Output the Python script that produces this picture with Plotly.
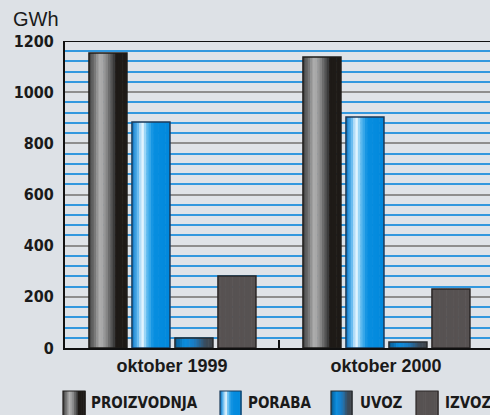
import plotly.graph_objects as go

categories = ["oktober 1999", "oktober 2000"]
series_names = ["PROIZVODNJA", "PORABA", "UVOZ", "IZVOZ"]
proizvodnja = [1153, 1137]
poraba = [883, 903]
uvoz = [39, 23]
izvoz = [281, 231]
y_ticks = [0, 200, 400, 600, 800, 1000, 1200]

values = [proizvodnja, poraba, uvoz, izvoz]

# gradient profiles (position across bar width 0..1, colour)
gradients = [
    [(0.0, (0x40, 0x40, 0x40)), (0.12, (0x6a, 0x6a, 0x6a)), (0.3, (0xb4, 0xb4, 0xb4)),
     (0.46, (0x88, 0x88, 0x88)), (0.66, (0x3a, 0x3a, 0x3a)), (0.7, (0x1e, 0x1a, 0x17)),
     (1.0, (0x1e, 0x1a, 0x17))],
    [(0.0, (0x0a, 0x74, 0xc4)), (0.14, (0x58, 0xb4, 0xee)), (0.27, (0xee, 0xf8, 0xff)),
     (0.4, (0x5c, 0xba, 0xf0)), (0.56, (0x08, 0x8e, 0xe0)), (1.0, (0x00, 0x88, 0xdc))],
    [(0.0, (0x0a, 0x58, 0x8c)), (0.25, (0x0a, 0x8e, 0xe0)), (0.5, (0x1a, 0x7c, 0xc4)),
     (0.8, (0x3a, 0x4a, 0x5a)), (1.0, (0x40, 0x44, 0x4a))],
    [(0.0, (0x57, 0x52, 0x52)), (1.0, (0x57, 0x52, 0x52))],
]
borders = ["#1e1c1a", "#1a3a5a", "#262a2e", "#2a2626"]


def grad_color(prof, t):
    for (t0, c0), (t1, c1) in zip(prof[:-1], prof[1:]):
        if t0 <= t <= t1:
            f = 0 if t1 == t0 else (t - t0) / (t1 - t0)
            c = [round(a + (b - a) * f) for a, b in zip(c0, c1)]
            return "rgb(%d,%d,%d)" % tuple(c)
    c = prof[-1][1]
    return "rgb(%d,%d,%d)" % c


BAR_W = 0.1776
SLOT = 0.2009
START = -0.388
N = 16

COND = "DejaVu Sans Condensed, Liberation Sans Narrow, Arial Narrow, sans-serif"

fig = go.Figure()
for i, (name, vals) in enumerate(zip(series_names, values)):
    off0 = START + i * SLOT
    sw = BAR_W / N
    for k in range(N):
        t = (k + 0.5) / N
        fig.add_trace(go.Bar(
            x=categories, y=vals, offset=off0 + k * sw, width=sw * 1.25 if k < N - 1 else sw,
            marker=dict(color=grad_color(gradients[i], t), line=dict(width=0)),
            showlegend=False, hoverinfo="skip"))
    fig.add_trace(go.Bar(
        x=categories, y=vals, offset=off0, width=BAR_W, name=name,
        marker=dict(color="rgba(0,0,0,0)", line=dict(width=1.5, color=borders[i])),
        showlegend=False))

# manual legend
PL, PR, PT, PB = 65, 490, 41, 348
def px(x):
    return (x - PL) / (PR - PL)
def py(y):
    return (PB - y) / (PB - PT)

legend_sym = [(63, 85), (220, 241), (331, 352), (416, 438)]
legend_txt = [89, 246, 358, 443]
shapes = []
annotations = []
for i, name in enumerate(series_names):
    x0, x1 = legend_sym[i]
    n = 12
    w = (x1 - x0) / n
    for k in range(n):
        t = (k + 0.5) / n
        shapes.append(dict(type="rect", xref="paper", yref="paper",
                           x0=px(x0 + k * w), x1=px(x0 + (k + 1) * w + 0.6),
                           y0=py(391), y1=py(420),
                           fillcolor=grad_color(gradients[i], t), line=dict(width=0)))
    shapes.append(dict(type="rect", xref="paper", yref="paper",
                       x0=px(x0), x1=px(x1), y0=py(391), y1=py(420),
                       fillcolor="rgba(0,0,0,0)", line=dict(width=1.2, color=borders[i])))
    annotations.append(dict(text=name, xref="paper", yref="paper", x=px(legend_txt[i]), y=py(403),
                            xanchor="left", yanchor="middle", showarrow=False,
                            font=dict(family=COND, size=15, color="#1a1a1a", weight="bold")))

# top border line at 1200
shapes.append(dict(type="line", xref="paper", yref="y", x0=0, x1=1, y0=1200, y1=1200,
                   line=dict(color="#111111", width=2)))

annotations.append(dict(text="GWh", xref="paper", yref="paper", x=px(11), y=py(19),
                        xanchor="left", yanchor="middle", showarrow=False,
                        font=dict(family="Liberation Sans, Arial, sans-serif", size=20, color="#1a1a1a")))

fig.update_layout(
    width=490, height=415,
    margin=dict(l=PL, r=0, t=PT, b=415 - PB, pad=0),
    barmode="overlay",
    paper_bgcolor="#dde1e6",
    plot_bgcolor="#dfe3e8",
    shapes=shapes,
    annotations=annotations,
    showlegend=False,
    xaxis=dict(range=[-0.5, -0.5 + (PR - PL) / 214], showgrid=False, showline=True,
               linecolor="#111111", linewidth=2, ticks="inside", tickson="boundaries",
               ticklen=8, tickwidth=1.5, tickcolor="#111111", zeroline=False,
               tickfont=dict(family="Liberation Sans, Arial, sans-serif", size=18,
                             color="#1a1a1a", weight="bold")),
    yaxis=dict(range=[0, 1200], tickvals=y_ticks, showgrid=True, gridcolor="#8e8e8e",
               gridwidth=2, showline=True, linecolor="#111111", linewidth=2, zeroline=False,
               ticks="", ticklabelstandoff=6,
               minor=dict(dtick=40, showgrid=True, gridcolor="#3398de", gridwidth=1.5),
               tickfont=dict(family=COND, size=16, color="#1a1a1a", weight="bold")),
)

fig.write_html("out.html", config={"displayModeBar": False},
               post_script="document.body.style.margin='0';document.body.style.overflow='hidden';")
